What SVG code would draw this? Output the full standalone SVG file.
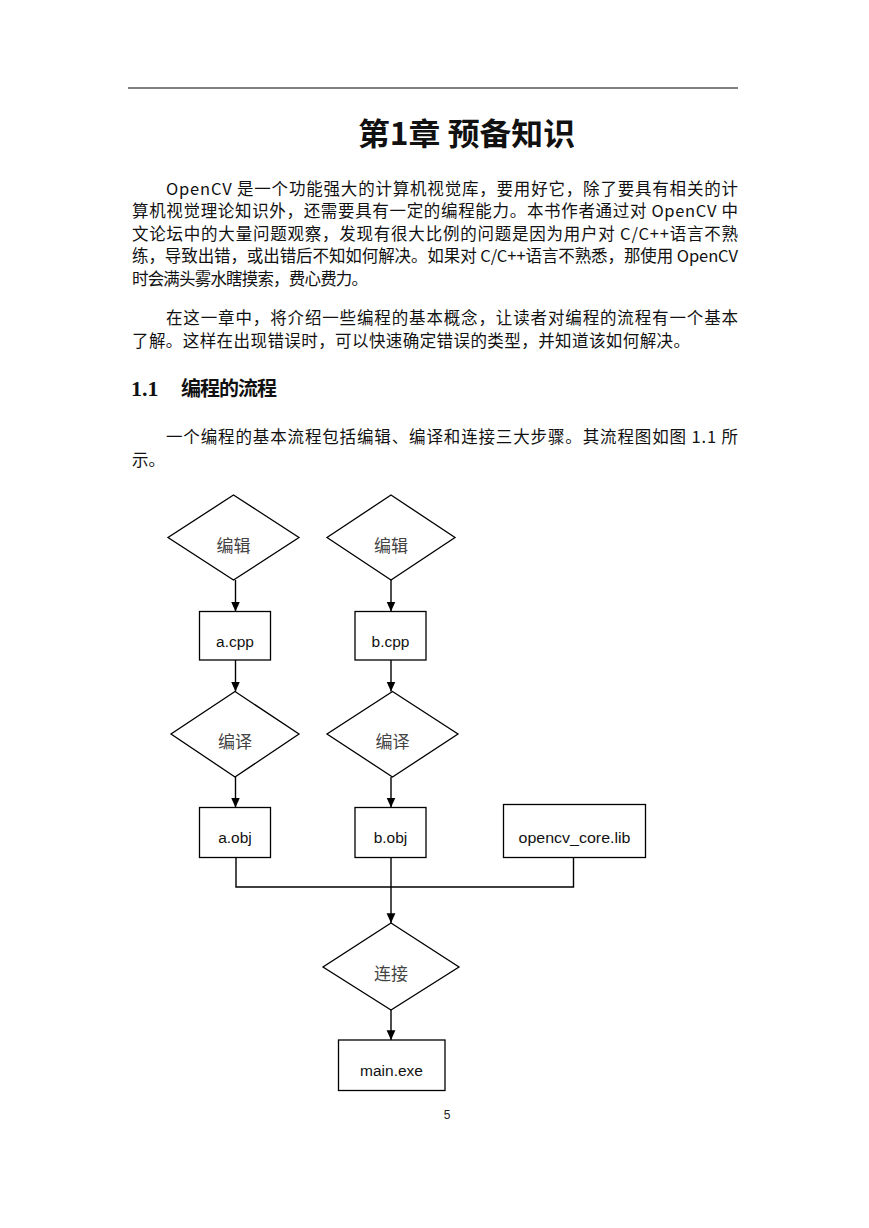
<svg xmlns="http://www.w3.org/2000/svg" width="869" height="1228" viewBox="0 0 869 1228">
<style>
.body{font-family:"Noto Sans CJK SC","Liberation Sans",sans-serif;font-size:16.5px;fill:#111}
.title{font-family:"Noto Sans CJK SC","Liberation Sans",sans-serif;font-size:31px;font-weight:bold;fill:#111}
.h2{font-family:"Noto Sans CJK SC","Liberation Serif",serif;font-size:20px;font-weight:bold;fill:#111}
.h2n{font-family:"Liberation Serif",serif;font-size:22px;font-weight:bold;fill:#111}
.shape{fill:#fff;stroke:#000;stroke-width:1.3}
.lbl{font-family:"Noto Sans CJK SC",sans-serif;font-size:17px;fill:#444;text-anchor:middle}
.fn{font-family:"Liberation Sans",sans-serif;font-size:15.5px;fill:#111;text-anchor:middle}
.conn{fill:none;stroke:#000;stroke-width:1.4}
</style>
<defs>
<marker id="arr" viewBox="0 0 10 10" refX="10" refY="5" markerWidth="7" markerHeight="7" orient="auto" markerUnits="strokeWidth">
<path d="M0,0.5 L10,5 L0,9.5 z" fill="#000"/>
</marker>
</defs>
<rect width="869" height="1228" fill="#fff"/>
<line x1="128" y1="88" x2="738" y2="88" stroke="#000" stroke-width="1"/>
<text class="title" x="358" y="145" textLength="217" lengthAdjust="spacingAndGlyphs">第1章 预备知识</text>
<g id="text">
<text class="body" x="166" y="195" textLength="572" lengthAdjust="spacing">OpenCV 是一个功能强大的计算机视觉库，要用好它，除了要具有相关的计</text>
<text class="body" x="132" y="217" textLength="606" lengthAdjust="spacing">算机视觉理论知识外，还需要具有一定的编程能力。本书作者通过对 OpenCV 中</text>
<text class="body" x="132" y="240" textLength="606" lengthAdjust="spacing">文论坛中的大量问题观察，发现有很大比例的问题是因为用户对 C/C++语言不熟</text>
<text class="body" x="132" y="262" textLength="606" lengthAdjust="spacing">练，导致出错，或出错后不知如何解决。如果对 C/C++语言不熟悉，那使用 OpenCV</text>
<text class="body" x="132" y="285" textLength="236" lengthAdjust="spacing">时会满头雾水瞎摸索，费心费力。</text>
<text class="body" x="166" y="324" textLength="572" lengthAdjust="spacing">在这一章中，将介绍一些编程的基本概念，让读者对编程的流程有一个基本</text>
<text class="body" x="132" y="347" textLength="558" lengthAdjust="spacing">了解。这样在出现错误时，可以快速确定错误的类型，并知道该如何解决。</text>
<text class="h2n" x="131" y="396">1.1</text>
<text class="h2" x="181" y="396" textLength="96" lengthAdjust="spacing">编程的流程</text>
<text class="body" x="166" y="443" textLength="572" lengthAdjust="spacing">一个编程的基本流程包括编辑、编译和连接三大步骤。其流程图如图  1.1 所</text>
<text class="body" x="132" y="466">示。</text>
<text x="447" y="1119" font-family="Liberation Sans,sans-serif" font-size="12" fill="#222" text-anchor="middle">5</text>
</g>
<g id="connectors">
<line class="conn" x1="235.5" y1="580" x2="235.5" y2="611.5" marker-end="url(#arr)"/>
<line class="conn" x1="391" y1="580" x2="391" y2="611.5" marker-end="url(#arr)"/>
<line class="conn" x1="235.5" y1="660" x2="235.5" y2="691.5" marker-end="url(#arr)"/>
<line class="conn" x1="391" y1="660" x2="391" y2="691.5" marker-end="url(#arr)"/>
<line class="conn" x1="235.5" y1="777" x2="235.5" y2="807.5" marker-end="url(#arr)"/>
<line class="conn" x1="391" y1="777" x2="391" y2="807.5" marker-end="url(#arr)"/>
<path class="conn" d="M236,857 V887 H573.5 V857"/>
<line class="conn" x1="391" y1="857" x2="391" y2="923" marker-end="url(#arr)"/>
<line class="conn" x1="391" y1="1010" x2="391" y2="1040" marker-end="url(#arr)"/>
</g>
<g id="edit1"><polygon class="shape" points="233.5,495 299,537.5 233.5,580 168,537.5"/><text class="lbl" x="233.5" y="552">编辑</text></g>
<g id="edit2"><polygon class="shape" points="391,495 455,537.5 391,580 327,537.5"/><text class="lbl" x="391" y="552">编辑</text></g>
<g id="acpp"><rect class="shape" x="199.5" y="611.5" width="71" height="48.5"/><text class="fn" x="235" y="647">a.cpp</text></g>
<g id="bcpp"><rect class="shape" x="355" y="611.5" width="71" height="48.5"/><text class="fn" x="390.5" y="647">b.cpp</text></g>
<g id="compile1"><polygon class="shape" points="235,691.5 299,734 235,777 171,734"/><text class="lbl" x="235" y="748">编译</text></g>
<g id="compile2"><polygon class="shape" points="392.5,691.5 458,734 392.5,777 327,734"/><text class="lbl" x="392.5" y="748">编译</text></g>
<g id="aobj"><rect class="shape" x="199.5" y="807.5" width="71" height="50"/><text class="fn" x="235" y="843">a.obj</text></g>
<g id="bobj"><rect class="shape" x="355" y="807.5" width="71" height="50"/><text class="fn" x="390.5" y="843">b.obj</text></g>
<g id="lib"><rect class="shape" x="503.5" y="804.5" width="142" height="53"/><text class="fn" x="574.5" y="843" textLength="112" lengthAdjust="spacingAndGlyphs">opencv_core.lib</text></g>
<g id="link"><polygon class="shape" points="391,923 459,967 391,1010 323,967"/><text class="lbl" x="391" y="980">连接</text></g>
<g id="mainexe"><rect class="shape" x="338.5" y="1040" width="106.5" height="50.5"/><text class="fn" x="391.5" y="1076">main.exe</text></g>
</svg>
